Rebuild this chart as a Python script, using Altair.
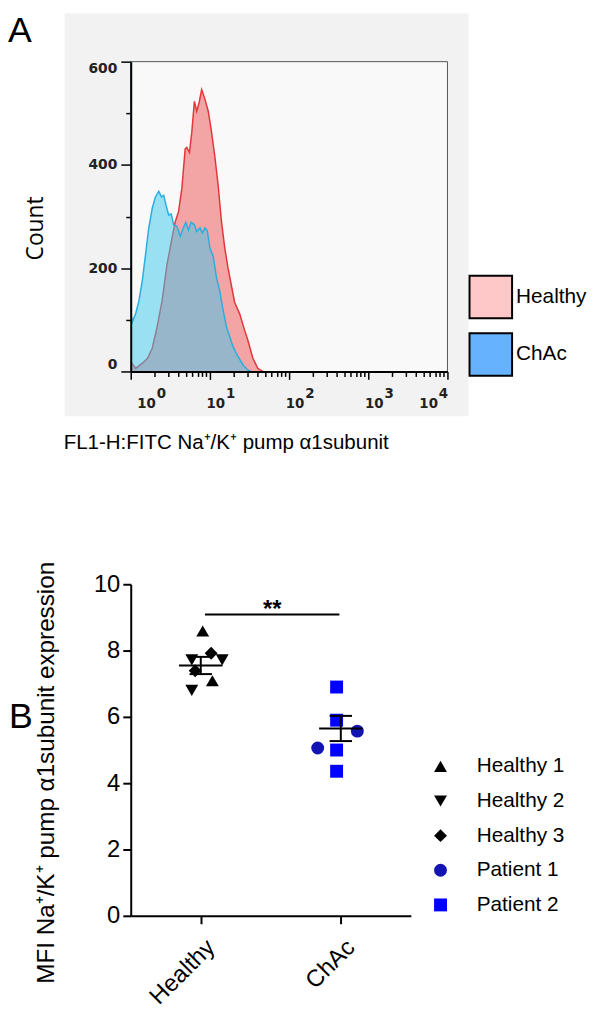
import altair as alt
import pandas as pd

# ---------------- Panel A: flow cytometry histograms ----------------
healthy_fl = [1.0, 1.155, 1.40, 1.62, 1.87, 2.15, 2.49, 2.87, 3.32, 3.65,
              4.02, 4.42, 4.87, 5.11, 5.52, 5.90, 6.37, 6.81, 7.29, 7.87,
              8.66, 9.53, 10.5, 11.5, 12.7, 14.0, 15.4, 16.9, 18.7, 20.5,
              23.7, 27.4, 30.1, 34.8, 40.2, 46.4]
healthy_count = [19, 6, 16, 25, 45, 86, 137, 207, 258, 290,
                 310, 354, 431, 434, 424, 463, 523, 504, 520, 546,
                 527, 504, 463, 418, 361, 290, 239, 201, 166, 134,
                 112, 80, 61, 26, 6, 0]
chac_fl = [1.0, 1.01, 1.05, 1.155, 1.27, 1.40, 1.54, 1.69, 1.87, 2.05,
           2.26, 2.44, 2.61, 2.79, 3.01, 3.25, 3.48, 3.83, 4.22, 4.51,
           4.96, 5.36, 5.79, 6.37, 6.81, 7.50, 8.02, 8.66, 9.26, 10.0,
           11.0, 12.1, 13.3, 14.7, 16.2, 17.8, 19.6, 22.6, 26.1, 30.1,
           33.2]
chac_count = [600, 110, 96, 112, 137, 176, 227, 278, 316, 338,
              349, 338, 341, 322, 303, 305, 284, 281, 262, 274,
              289, 274, 289, 284, 271, 278, 268, 278, 273, 239,
              223, 182, 156, 118, 86, 67, 48, 29, 13, 3,
              0]
decades = [1, 10, 100, 1000, 10000]
decade_exps = ["0", "1", "2", "3", "4"]
fl_ticks = [m * d for d in [1, 10, 100, 1000] for m in range(1, 10)] + [10000]
count_ticks = list(range(0, 601, 50))
samples = ["Healthy", "ChAc"]
sample_legend_colors = ["#ffc8c8", "#66b2ff"]
x_title_A = "FL1-H:FITC Na\u207a/K\u207a pump \u03b11subunit"

# ---------------- Panel B: MFI dot plot ----------------
groups = ["Healthy", "ChAc"]
subject = ["Healthy 1", "Healthy 1", "Healthy 2", "Healthy 2", "Healthy 2",
           "Healthy 3", "Healthy 3",
           "Patient 1", "Patient 1", "Patient 2", "Patient 2", "Patient 2", "Patient 2"]
group_idx = [1, 1, 1, 1, 1, 1, 1, 2, 2, 2, 2, 2, 2]
jitter = [0.014, 0.083, -0.064, 0.153, -0.064, 0.074, -0.040,
          0.118, -0.165, -0.030, -0.030, -0.030, -0.030]
mfi = [8.59, 7.09, 7.72, 7.72, 6.80, 7.92, 7.39,
       5.57, 5.06, 6.90, 5.90, 5.00, 4.36]
subjects_order = ["Healthy 1", "Healthy 2", "Healthy 3", "Patient 1", "Patient 2"]
subject_shapes = ["triangle-up", "triangle-down", "diamond", "circle", "square"]
subject_colors = ["#000000", "#000000", "#000000", "#1414b4", "#0000ff"]
group_mean = [7.55, 5.65]
group_sem = [0.26, 0.38]
sig_from, sig_to, sig_level, sig_label = 1.03, 1.99, 9.09, "**"
y_title_B = "MFI Na\u207a/K\u207a pump \u03b11subunit expression"

W_A, H_A = 320, 313
W_B, H_B = 283, 335

# ================= Panel A =================
df_h = pd.DataFrame({"fl": healthy_fl, "count": healthy_count})
df_c = pd.DataFrame({"fl": chac_fl, "count": chac_count})
df_dec = pd.DataFrame({"fl": decades, "exp": decade_exps})
one = pd.DataFrame({"k": [0]})

sxA = alt.Scale(type="log", domain=[1, 10000], nice=False)
syA = alt.Scale(domain=[0, 600], nice=False)
major_test = "indexof([1,10,100,1000,10000], datum.value) >= 0"

axisAx = alt.Axis(values=fl_ticks, labels=False, grid=False, zindex=2,
                  domainColor="black", domainWidth=2, tickColor="black",
                  tickWidth=1.5,
                  tickSize={"condition": {"test": major_test, "value": 8}, "value": 5},
                  title=x_title_A, titleFont="Liberation Sans", titleFontSize=20.7,
                  titleFontWeight="normal", titleColor="black",
                  titleX=96, titleY=78, titleBaseline="alphabetic", titleAlign="center")
axisAy = alt.Axis(values=count_ticks,
                  labelExpr="datum.value % 200 === 0 ? datum.label : ''",
                  labelFont="DejaVu Sans", labelFontWeight="bold", labelFontSize=14,
                  labelColor="#222222", labelPadding=4, labelFlush=True, grid=False,
                  zindex=2,
                  domainColor="black", domainWidth=2, tickColor="black", tickWidth=1.5,
                  tickSize={"condition": {"test": "datum.value % 200 === 0", "value": 10}, "value": 5},
                  title="Count", titleFont="Open Sans", titleFontSize=23,
                  titleFontWeight="normal", titleColor="black",
                  titleX=-89, titleY=168, titleBaseline="alphabetic", titleAngle=270)

bg_outer = alt.Chart(one).mark_rect(color="#f2f2f2").encode(
    x=alt.value(-66.7), x2=alt.value(341.3), y=alt.value(-48.7), y2=alt.value(358.3))
bg_inner = alt.Chart(one).mark_rect(color="#f9f9f9").encode(
    x=alt.value(0), x2=alt.value(W_A), y=alt.value(0), y2=alt.value(H_A))

red_area = alt.Chart(df_h).mark_area(color="#f29b9b", opacity=0.9).encode(
    x=alt.X("fl:Q", scale=sxA, axis=axisAx),
    y=alt.Y("count:Q", scale=syA, axis=axisAy))
red_line = alt.Chart(df_h).mark_line(color="#e3363a", strokeWidth=1.5).encode(
    x=alt.X("fl:Q", scale=sxA), y=alt.Y("count:Q", scale=syA))
blue_area = alt.Chart(df_c).mark_area(color="#3cc8ee", opacity=0.5).encode(
    x=alt.X("fl:Q", scale=sxA), y=alt.Y("count:Q", scale=syA))
blue_line = alt.Chart(df_c).mark_line(color="#2aaee0", strokeWidth=1.5).encode(
    x=alt.X("fl:Q", scale=sxA), y=alt.Y("count:Q", scale=syA))

frame_top = alt.Chart(one).mark_rule(color="#555555", strokeWidth=1).encode(
    x=alt.value(0), x2=alt.value(W_A), y=alt.value(0))
frame_right = alt.Chart(one).mark_rule(color="#555555", strokeWidth=1).encode(
    x=alt.value(W_A), y=alt.value(0), y2=alt.value(H_A))

legA = alt.Legend(orient="none", legendX=341.3, legendY=215.3, title=None,
                  symbolType="square", symbolSize=1849, symbolStrokeColor="black",
                  symbolStrokeWidth=2, symbolOpacity=1, labelFont="Liberation Sans",
                  labelFontSize=21, labelColor="black", labelOffset=3, rowPadding=7,
                  padding=0, labelLimit=200)
legend_dummy = alt.Chart(pd.DataFrame({"sample": samples})).mark_square(size=0, opacity=0).encode(
    x=alt.value(0), y=alt.value(0),
    fill=alt.Fill("sample:N", scale=alt.Scale(domain=samples, range=sample_legend_colors),
                  legend=legA, sort=samples))


def dec_labels(filt, dx_base, dx_exp):
    base = alt.Chart(df_dec).transform_filter(filt).mark_text(
        text="10", font="DejaVu Sans", fontWeight="bold", fontSize=13.5, color="#222222",
        align="center", baseline="alphabetic", dx=dx_base).encode(
        x=alt.X("fl:Q", scale=sxA), y=alt.value(H_A + 36.7))
    exp = alt.Chart(df_dec).transform_filter(filt).mark_text(
        font="DejaVu Sans", fontWeight="bold", fontSize=13.5, color="#222222",
        align="center", baseline="alphabetic", dx=dx_exp).encode(
        x=alt.X("fl:Q", scale=sxA), y=alt.value(H_A + 26.7), text="exp:N")
    return [base, exp]


lab_layers = (dec_labels("datum.fl == 1", 16, 31)
              + dec_labels("datum.fl > 1 && datum.fl < 10000", 6, 21)
              + dec_labels("datum.fl == 10000", -19, -4))

letter_A = alt.Chart(one).mark_text(text="A", font="Liberation Sans", fontSize=36,
                                    align="left", baseline="top", color="black").encode(
    x=alt.value(-124), y=alt.value(-47.4))

panelA = alt.layer(bg_outer, bg_inner, red_area, red_line, blue_area, blue_line,
                   frame_top, frame_right, legend_dummy, *lab_layers, letter_A).properties(
    width=W_A, height=H_A)

# ================= Panel B =================
df_pts = pd.DataFrame({"subject": subject, "g": group_idx, "j": jitter, "mfi": mfi})
df_pts["pos"] = df_pts["g"] + df_pts["j"]
df_sum = pd.DataFrame({"pos": [1, 2], "mfi": group_mean, "sem": group_sem})
df_sig = pd.DataFrame({"x1": [sig_from], "x2": [sig_to], "y": [sig_level], "lab": [sig_label]})

sxB = alt.Scale(domain=[0.5, 2.5], nice=False, zero=False)
syB = alt.Scale(domain=[0, 10], nice=False)
label_expr_B = "datum.value === 1 ? '%s' : '%s'" % (groups[0], groups[1])

axisBx = alt.Axis(values=[1, 2], labelExpr=label_expr_B, labelAngle=315,
                  labelAlign="right", labelBaseline="middle", labelOffset=10,
                  labelPadding=20, zindex=2,
                  labelFont="Liberation Sans", labelFontSize=24, labelColor="black",
                  grid=False, domainColor="black", domainWidth=2, tickColor="black",
                  tickWidth=2, tickSize=8, title=None)
axisBy = alt.Axis(values=[0, 2, 4, 6, 8, 10], labelFont="Liberation Sans", labelFontSize=24,
                  labelColor="black", labelPadding=3, grid=False, domainColor="black",
                  domainWidth=2, tickColor="black", tickWidth=2, tickSize=8, zindex=2,
                  title=y_title_B, titleFont="Liberation Sans", titleFontSize=24.5,
                  titleFontWeight="normal", titleColor="black", titleX=-78, titleY=190,
                  titleBaseline="alphabetic", titleAngle=270)

legB = alt.Legend(orient="none", legendX=302.5, legendY=173.5, title=None, symbolSize=170,
                  labelFont="Liberation Sans", labelFontSize=21, labelColor="black",
                  labelOffset=26, rowPadding=13, padding=0, symbolStrokeWidth=0,
                  symbolOpacity=1, labelLimit=200)

pts = alt.Chart(df_pts).mark_point(filled=True, size=170, opacity=1, strokeWidth=0).encode(
    x=alt.X("pos:Q", scale=sxB, axis=axisBx, title=None),
    y=alt.Y("mfi:Q", scale=syB, axis=axisBy),
    shape=alt.Shape("subject:N", scale=alt.Scale(domain=subjects_order, range=subject_shapes),
                    legend=legB),
    color=alt.Color("subject:N", scale=alt.Scale(domain=subjects_order, range=subject_colors),
                    legend=legB))

mean_rule = alt.Chart(df_sum).transform_calculate(
    pl="datum.pos - 0.155", pr="datum.pos + 0.155").mark_rule(
    color="black", strokeWidth=2).encode(
    x=alt.X("pl:Q", scale=sxB, title=None), x2="pr:Q",
    y=alt.Y("mfi:Q", scale=syB))
sem_rule = alt.Chart(df_sum).transform_calculate(
    lo="datum.mfi - datum.sem", hi="datum.mfi + datum.sem").mark_rule(
    color="black", strokeWidth=2).encode(
    x=alt.X("pos:Q", scale=sxB, title=None),
    y=alt.Y("lo:Q", scale=syB), y2="hi:Q")
cap_hi = alt.Chart(df_sum).transform_calculate(
    pl="datum.pos - 0.08", pr="datum.pos + 0.08", hi="datum.mfi + datum.sem").mark_rule(
    color="black", strokeWidth=2).encode(
    x=alt.X("pl:Q", scale=sxB, title=None), x2="pr:Q", y=alt.Y("hi:Q", scale=syB))
cap_lo = alt.Chart(df_sum).transform_calculate(
    pl="datum.pos - 0.08", pr="datum.pos + 0.08", lo="datum.mfi - datum.sem").mark_rule(
    color="black", strokeWidth=2).encode(
    x=alt.X("pl:Q", scale=sxB, title=None), x2="pr:Q", y=alt.Y("lo:Q", scale=syB))

sig_rule = alt.Chart(df_sig).mark_rule(color="black", strokeWidth=2).encode(
    x=alt.X("x1:Q", scale=sxB, title=None), x2="x2:Q", y=alt.Y("y:Q", scale=syB))
sig_text = alt.Chart(df_sig).transform_calculate(xm="(datum.x1 + datum.x2) / 2").mark_text(
    font="Liberation Sans", fontSize=24, fontWeight="bold", color="black",
    align="center", baseline="alphabetic", dy=3).encode(
    x=alt.X("xm:Q", scale=sxB, title=None), y=alt.Y("y:Q", scale=syB), text="lab:N")

letter_B = alt.Chart(one).mark_text(text="B", font="Liberation Sans", fontSize=36,
                                    align="left", baseline="alphabetic", color="black").encode(
    x=alt.value(-123), y=alt.value(145.3))

panelB = alt.layer(pts, mean_rule, sem_rule, cap_hi, cap_lo, sig_rule, sig_text,
                   letter_B).properties(width=W_B, height=H_B)

chart = alt.vconcat(panelA, panelB, spacing=215, bounds="flush").resolve_scale(
    color="independent", fill="independent", shape="independent").properties(
    padding=0).configure(font="Liberation Sans").configure_view(strokeWidth=0)

chart.save("out.html", embed_options={"renderer": "svg", "actions": False})
